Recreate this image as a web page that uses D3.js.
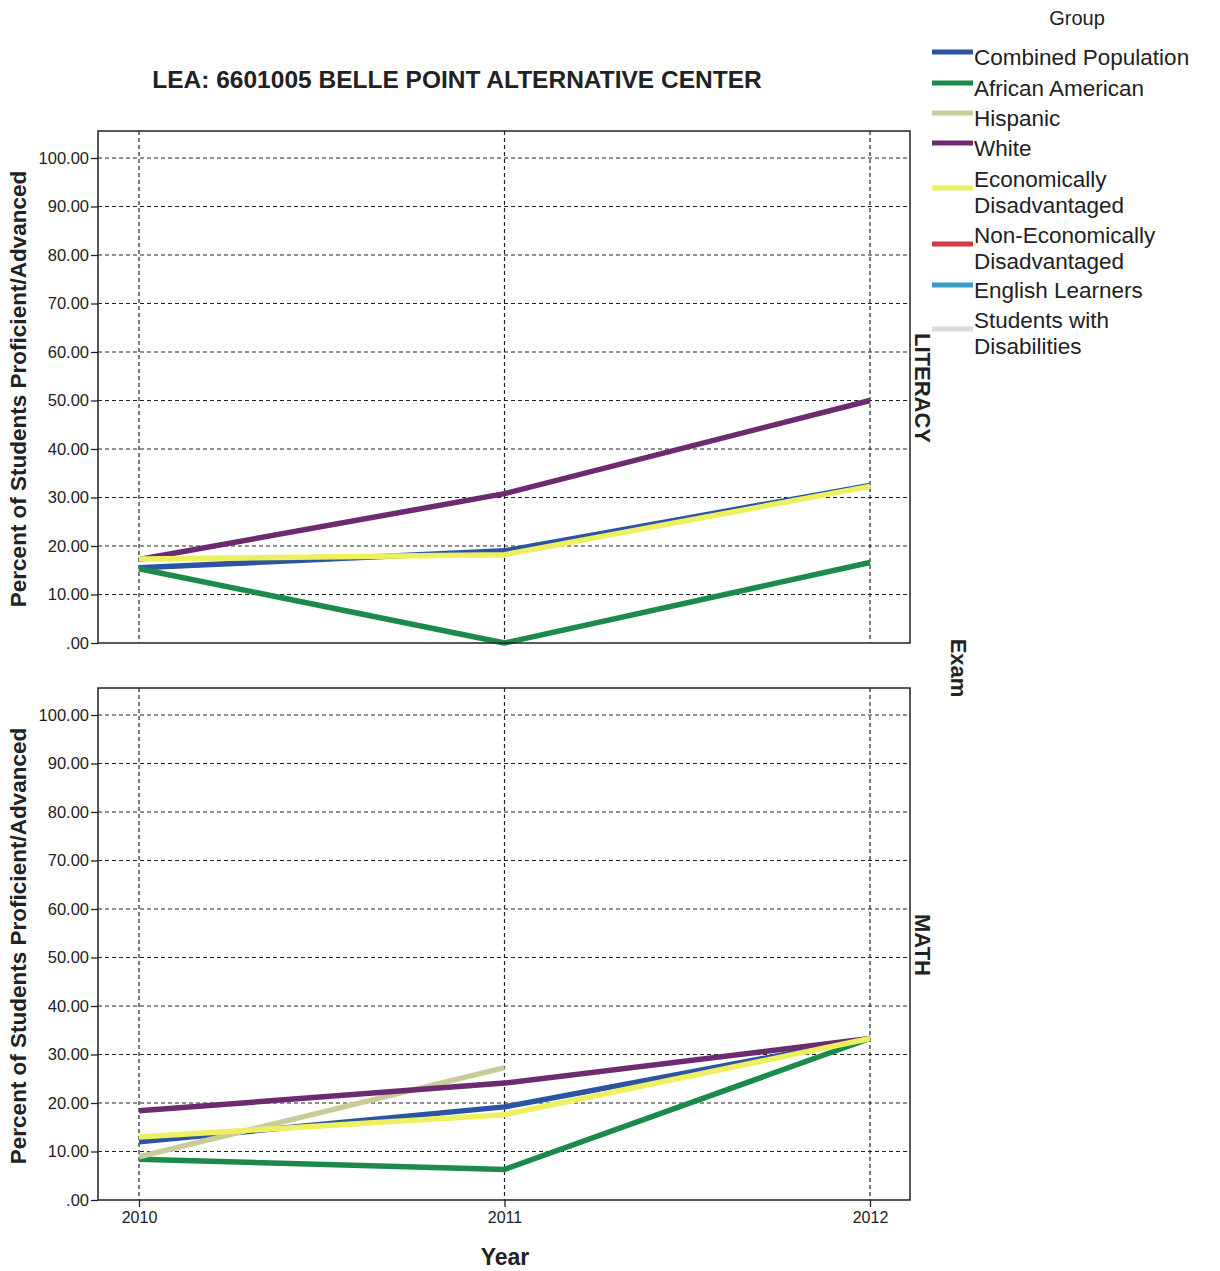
<!DOCTYPE html>
<html><head><meta charset="utf-8">
<script src="https://cdn.jsdelivr.net/npm/d3@7"></script>
<style>body{margin:0;background:#fff;} text{font-family:"Liberation Sans",Arial,sans-serif;fill:#222;}</style>
</head><body>
<svg id="chart" width="1220" height="1271"></svg>
<script>
const years = [2010, 2011, 2012];
const yTicks = [0, 10, 20, 30, 40, 50, 60, 70, 80, 90, 100];
const groups = ["Combined Population", "African American", "Hispanic", "White", "Economically Disadvantaged", "Non-Economically Disadvantaged", "English Learners", "Students with Disabilities"];
const groupColors = ["#2b55a3", "#1b8a4c", "#c9cc98", "#6c2b70", "#eef060", "#d23a44", "#3a9cc6", "#d8dcdc"];
const exams = ["LITERACY", "MATH"];
// values per year [2010, 2011, 2012]; null = missing
const literacyCombined = [15.5, 19.0, 32.5];
const literacyAfricanAmerican = [15.3, 0.0, 16.6];
const literacyWhite = [17.2, 30.8, 50.0];
const literacyEconDis = [17.3, 18.2, 32.3];
const mathCombined = [12.0, 19.2, 33.3];
const mathAfricanAmerican = [8.4, 6.3, 33.3];
const mathHispanic = [8.9, 27.3, null];
const mathWhite = [18.4, 24.1, 33.3];
const mathEconDis = [13.0, 17.6, 33.3];

const panelData = [
  [ {g: "Combined Population", v: literacyCombined},
    {g: "African American", v: literacyAfricanAmerican},
    {g: "White", v: literacyWhite},
    {g: "Economically Disadvantaged", v: literacyEconDis} ],
  [ {g: "Combined Population", v: mathCombined},
    {g: "African American", v: mathAfricanAmerican},
    {g: "Hispanic", v: mathHispanic},
    {g: "White", v: mathWhite},
    {g: "Economically Disadvantaged", v: mathEconDis} ]
];

const svg = d3.select("#chart");
const color = d3.scaleOrdinal().domain(groups).range(groupColors);
const L = 98, R = 910;
const panels = [{top: 131, bottom: 643}, {top: 688, bottom: 1200}];
const x = d3.scalePoint().domain(years).range([139, 870]);

svg.append("text").attr("x", 457).attr("y", 88).attr("text-anchor", "middle")
  .attr("font-size", 24.5).attr("font-weight", "bold").text("LEA: 6601005 BELLE POINT ALTERNATIVE CENTER");

panels.forEach((p, i) => {
  const y = d3.scaleLinear().domain([0, 100]).range([p.bottom, p.top + 27]);
  const g = svg.append("g");
  g.selectAll(".hg").data(yTicks.filter(d => d > 0)).join("line")
    .attr("x1", L).attr("x2", R).attr("y1", d => y(d)).attr("y2", d => y(d))
    .attr("stroke", "#222").attr("stroke-width", 1.2).attr("stroke-dasharray", "4,3");
  g.selectAll(".vg").data(years).join("line")
    .attr("x1", d => x(d)).attr("x2", d => x(d)).attr("y1", p.top).attr("y2", p.bottom)
    .attr("stroke", "#222").attr("stroke-width", 1.2).attr("stroke-dasharray", "4,3");
  const ya = g.append("g").attr("transform", `translate(${L},0)`)
    .call(d3.axisLeft(y).tickValues(yTicks).tickSize(7).tickPadding(2)
      .tickFormat(d => d === 0 ? ".00" : d3.format(".2f")(d)));
  ya.select(".domain").remove();
  ya.selectAll("line").attr("stroke", "#222").attr("stroke-width", 1.3);
  ya.selectAll("text").attr("font-size", 16.5).attr("font-family", "Liberation Sans, Arial, sans-serif").attr("fill", "#222");
  const line = d3.line().defined(d => d.v !== null).x(d => x(d.yr)).y(d => y(d.v));
  g.selectAll(".series").data(panelData[i]).join("path")
    .attr("d", s => line(s.v.map((v, k) => ({yr: years[k], v}))))
    .attr("fill", "none").attr("stroke", s => color(s.g)).attr("stroke-width", 5.5)
    .attr("stroke-linejoin", "round");
  g.append("rect").attr("x", L).attr("y", p.top).attr("width", R - L).attr("height", p.bottom - p.top)
    .attr("fill", "none").attr("stroke", "#222").attr("stroke-width", 1.5);
  svg.append("text").attr("transform", `translate(26,${(p.top + p.bottom) / 2 + 2}) rotate(-90)`)
    .attr("text-anchor", "middle").attr("font-size", 22.5).attr("font-weight", "bold")
    .text("Percent of Students Proficient/Advanced");
  svg.append("text").attr("transform", `translate(915,${i === 0 ? 388 : 945}) rotate(90)`)
    .attr("text-anchor", "middle").attr("font-size", 22).attr("font-weight", "bold").text(exams[i]);
});

const xa = svg.append("g").attr("transform", "translate(0,1200)")
  .call(d3.axisBottom(x).tickSize(7).tickPadding(5).tickFormat(d3.format("d")));
xa.select(".domain").remove();
xa.selectAll("line").attr("stroke", "#222").attr("stroke-width", 1.3);
xa.selectAll("text").attr("font-size", 16).attr("font-family", "Liberation Sans, Arial, sans-serif").attr("fill", "#222");
svg.append("text").attr("x", 505).attr("y", 1265).attr("text-anchor", "middle")
  .attr("font-size", 23).attr("font-weight", "bold").text("Year");
svg.append("text").attr("transform", "translate(951,668) rotate(90)")
  .attr("text-anchor", "middle").attr("font-size", 22).attr("font-weight", "bold").text("Exam");

svg.append("text").attr("x", 1077).attr("y", 25).attr("text-anchor", "middle").attr("font-size", 20).text("Group");
const legendRows = [
  {lines: ["Combined Population"], y: 57},
  {lines: ["African American"], y: 88},
  {lines: ["Hispanic"], y: 118},
  {lines: ["White"], y: 148},
  {lines: ["Economically", "Disadvantaged"], y: 179},
  {lines: ["Non-Economically", "Disadvantaged"], y: 235},
  {lines: ["English Learners"], y: 290},
  {lines: ["Students with", "Disabilities"], y: 320}
];
const lg = svg.append("g");
legendRows.forEach((r, i) => {
  const sy = r.lines.length === 1 ? r.y - 5 : r.y + 9;
  lg.append("line").attr("x1", 932).attr("x2", 973).attr("y1", sy).attr("y2", sy)
    .attr("stroke", color(groups[i])).attr("stroke-width", 5);
  r.lines.forEach((t, k) => {
    lg.append("text").attr("x", 974).attr("y", r.y + 8 + k * 26).attr("font-size", 22.5).text(t);
  });
});
</script>
</body></html>
